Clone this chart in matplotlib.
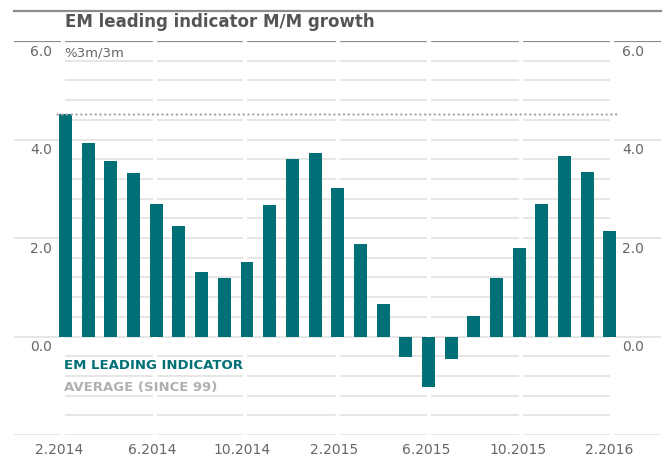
import numpy as np
import matplotlib
matplotlib.use("Agg")
import matplotlib.pyplot as plt
from matplotlib.lines import Line2D

# monthly values, 2.2014 .. 2.2016
growth = [4.52, 3.92, 3.56, 3.31, 2.69, 2.24, 1.31, 1.19, 1.52, 2.67,
          3.60, 3.72, 3.01, 1.88, 0.65, -0.42, -1.02, -0.46, 0.42, 1.19,
          1.80, 2.69, 3.66, 3.33, 2.14]
average = 4.52
tick_labels = ["2.2014", "6.2014", "10.2014", "2.2015", "6.2015", "10.2015", "2.2016"]
y_labels = [6.0, 4.0, 2.0, 0.0]

teal = "#007076"
grid_col = "#e4e4e4"
text_col = "#666666"

x = np.arange(len(growth))
# column separators (white gaps in the grid), one per x label
gaps = [-0.11, 3.95, 7.91, 12.01, 16.03, 20.08, 24.1]
xmin, xmax = -2.27, 26.25

fig = plt.figure(figsize=(6.67, 4.58), dpi=100)
ax = fig.add_axes([14 / 667, 1 - 435 / 458, 647 / 667, 394 / 458])
ax.set_xlim(xmin, xmax)
ax.set_ylim(-2, 6)
for s in ax.spines.values():
    s.set_visible(False)
ax.set_yticks([])

# grid
minor = [v for v in np.arange(-2, 6.01, 0.4) if abs(v / 2 - round(v / 2)) > 0.01]
ax.hlines(minor, gaps[0], gaps[-1], color=grid_col, lw=1.3, zorder=1)
ax.hlines([-2, 0, 2, 4], xmin, xmax, color=grid_col, lw=1.3, zorder=1)
ax.hlines([6], xmin, xmax, color="#8c8c8c", lw=1.6, zorder=1)
for g in gaps:
    ax.axvline(g, color="white", lw=3, zorder=2)

# bars and average
ax.bar(x, growth, width=0.57, color=teal, zorder=3)
ax.plot([-0.37, 24.37], [average, average], color="#aaaaaa", lw=1.8,
        linestyle=(0, (0.01, 1.9)), dash_capstyle="round", zorder=4)

# y labels on both sides
for v in y_labels:
    ax.text(-0.6, v - 0.22, f"{v:.1f}", ha="right", va="center",
            fontsize=10, color=text_col)
    ax.text(25.5, v - 0.22, f"{v:.1f}", ha="right", va="center",
            fontsize=10, color=text_col)

ax.set_xticks([g - 0.15 for g in gaps], tick_labels)
ax.tick_params(axis="x", length=0, pad=6, labelsize=10, labelcolor=text_col)

ax.text(-0.05, 5.76, "%3m/3m", ha="left", va="center", fontsize=9.5, color=text_col)
ax.text(-0.05, -0.59, "EM LEADING INDICATOR", ha="left", va="center",
        fontsize=9.5, fontweight="bold", color=teal)
ax.text(-0.05, -1.03, "AVERAGE (SINCE 99)", ha="left", va="center",
        fontsize=9.5, fontweight="bold", color="#b0b0b0")

fig.text(65 / 667, 1 - 22 / 458, "EM leading indicator M/M growth", ha="left",
         va="center", fontsize=12, fontweight="bold", color="#555555")
fig.add_artist(Line2D([14 / 667, 661 / 667], [1 - 11 / 458, 1 - 11 / 458],
                      transform=fig.transFigure, color="#8c8c8c", lw=1.6))

fig.savefig("out.png", dpi=100)
